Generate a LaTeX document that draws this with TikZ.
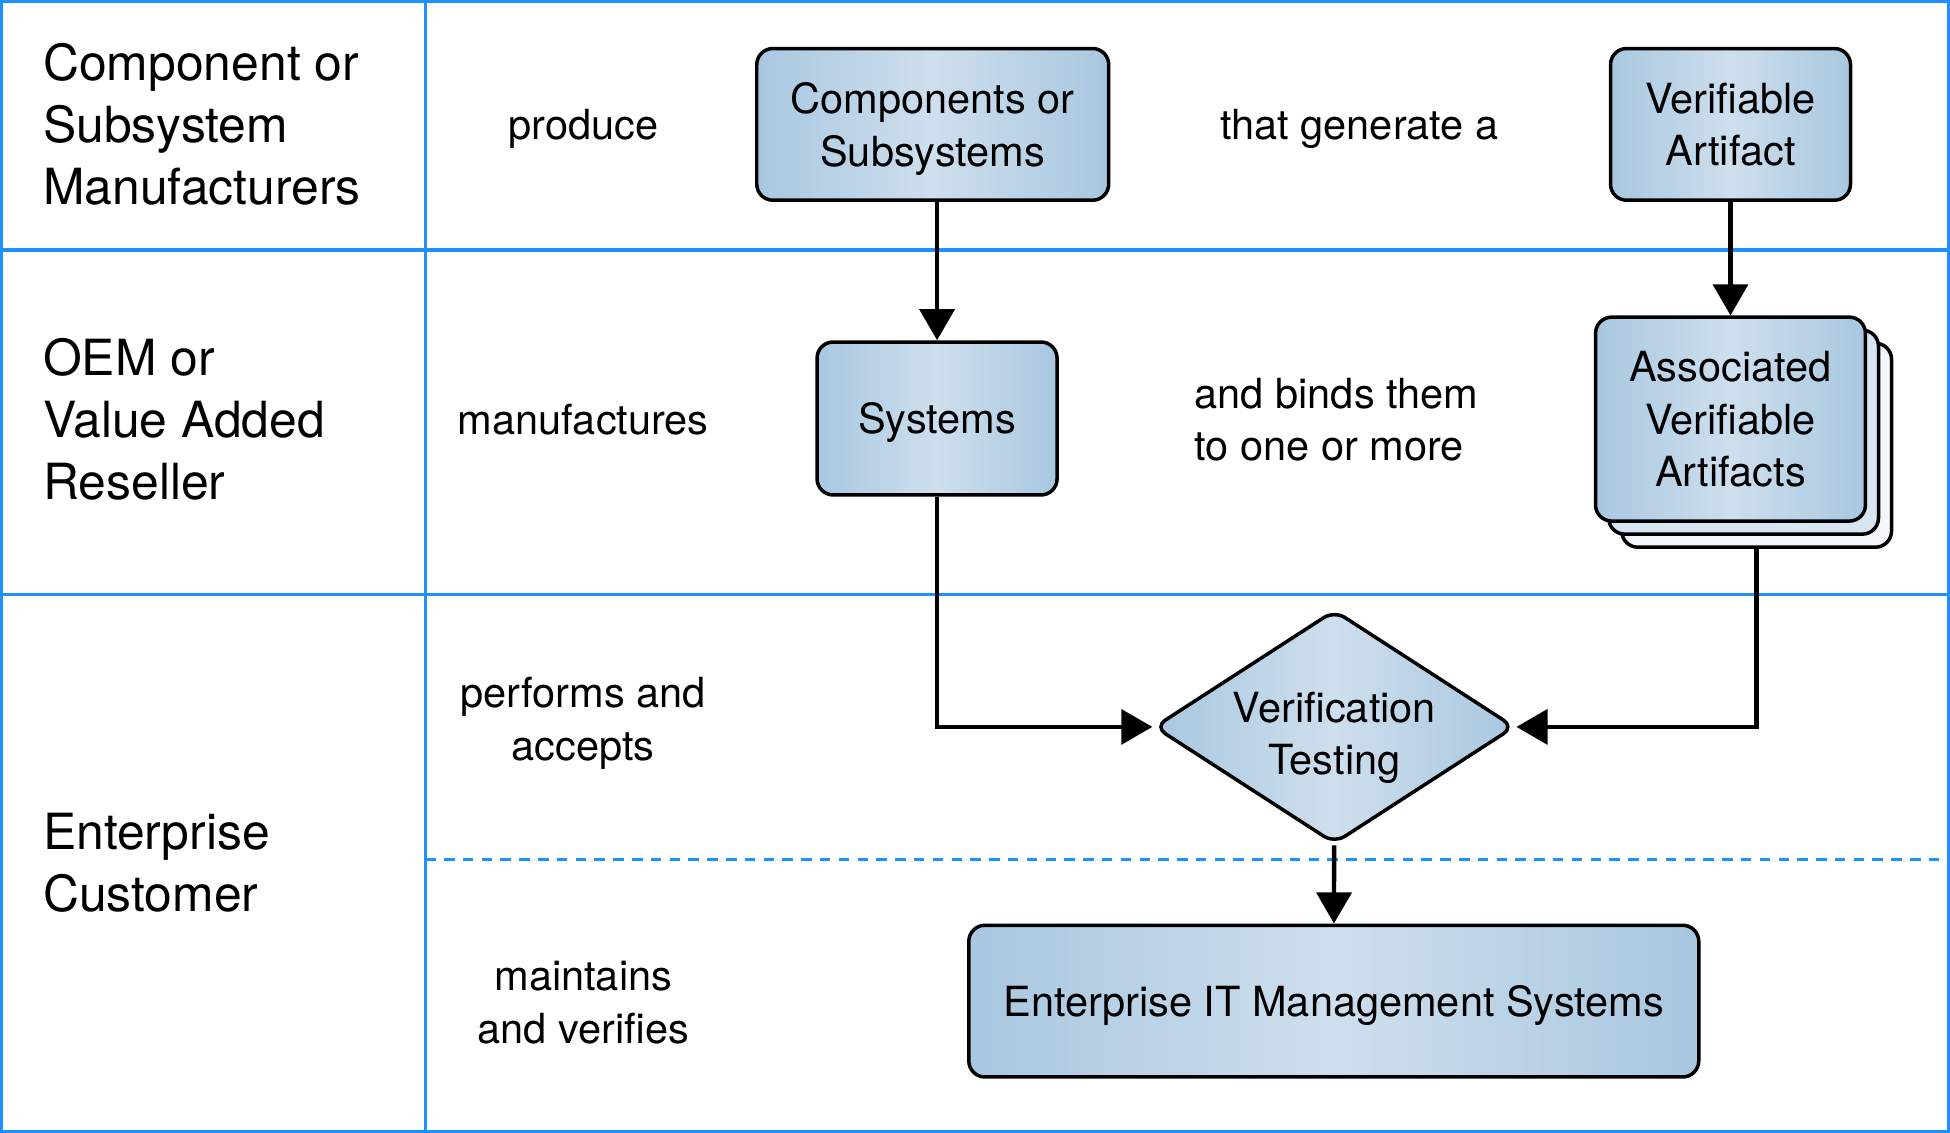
\documentclass[tikz,border=0pt]{standalone}
\usepackage{fontspec}
\setmainfont{TeX Gyre Heros}
\usetikzlibrary{arrows.meta,shapes.geometric}
\definecolor{lanecol}{RGB}{30,144,255}
\definecolor{boxdark}{RGB}{168,199,224}
\definecolor{boxlight}{RGB}{206,223,237}
\definecolor{backone}{RGB}{214,229,241}
\definecolor{backtwo}{RGB}{243,247,251}
\tikzset{
    box/.style={rectangle, rounded corners=1.3mm, draw, line width=0.8pt,
        left color=boxdark, right color=boxdark, middle color=boxlight,
        align=center, inner sep=0pt, text depth=0pt, font=\fontsize{9.5}{12}\selectfont},
    backbox/.style={rectangle, rounded corners=1.3mm, draw, line width=0.8pt,
        fill=#1, minimum width=2.17cm, minimum height=1.64cm},
    note/.style={align=center, inner sep=0pt, text depth=0pt, font=\fontsize{9.5}{12}\selectfont},
    lanetext/.style={anchor=west, align=left, inner sep=0pt, font=\fontsize{11.4}{14.2}\selectfont},
    laneline/.style={draw=lanecol, line width=0.7pt},
    flow/.style={->, line width=1pt},
}
\begin{document}
\begin{tikzpicture}[x=0.1mm, y=-0.1mm, >={Triangle[length=2.5mm, width=2.8mm]}]
        \useasboundingbox (0,0) rectangle (1568,911);
        % lanes
        \draw[laneline] (1,1) rectangle (1567,910);
        \draw[laneline] (342,1) -- (342,910);
        \draw[laneline] (1,201) -- (1567,201);
        \draw[laneline] (1,478) -- (1567,478);
        \draw[laneline, dash pattern=on 2.4pt off 1.9pt] (342,691) -- (1567,691);
        \node[lanetext] at (34, 100)  (mfr)  {Component or\\Subsystem\\Manufacturers};
        \node[lanetext] at (34, 337)  (oem)  {OEM or\\Value Added\\Reseller};
        \node[lanetext] at (34, 694)  (cust) {Enterprise\\Customer};
        \node[note] at (469, 100)  (produce)  {produce};
        \node[note] at (469, 337)  (manuf)    {manufactures};
        \node[note] at (469, 578)  (performs) {performs and\\accepts};
        \node[note] at (469, 806)  (maintain) {maintains\\and verifies};
        \node[note] at (1093, 100) (generate) {that generate a};
        \node[note, anchor=west, align=left] at (960, 337) (binds) {and binds them\\to one or more};
        % boxes
        \node[box, minimum width=2.83cm, minimum height=1.22cm] at (750, 100)    (cs)   {Components or\\Subsystems};
        \node[box, minimum width=1.93cm, minimum height=1.22cm] at (1391.5, 100) (va)   {Verifiable\\Artifact};
        \node[box, minimum width=1.93cm, minimum height=1.23cm] at (753.5, 336.5) (sys) {Systems};
        \node[backbox=backtwo] at (1412.5, 358) (ava3) {};
        \node[backbox=backone] at (1402, 347.5) (ava2) {};
        \node[box, minimum width=2.17cm, minimum height=1.64cm] at (1391.5, 337) (ava)  {Associated\\Verifiable\\Artifacts};
        \node[box, diamond, aspect=1.535, rounded corners=1mm, minimum width=2.9cm, minimum height=1.88cm] at (1073, 584.5) (vt) {\rule{0pt}{10pt}Verification\\Testing};
        \node[box, minimum width=5.87cm, minimum height=1.22cm] at (1072.5, 805) (eit) {Enterprise IT Management Systems};
        % connectors
        \draw[flow] (cs.south -| sys.north) -- (sys.north);
        \draw[flow] (va) -- (ava);
        \draw[flow] (sys.south) |- (vt.west);
        \draw[flow] (ava3.south) |- (vt.east);
        \draw[flow] (vt) -- (eit);
    \end{tikzpicture}
\end{document}
